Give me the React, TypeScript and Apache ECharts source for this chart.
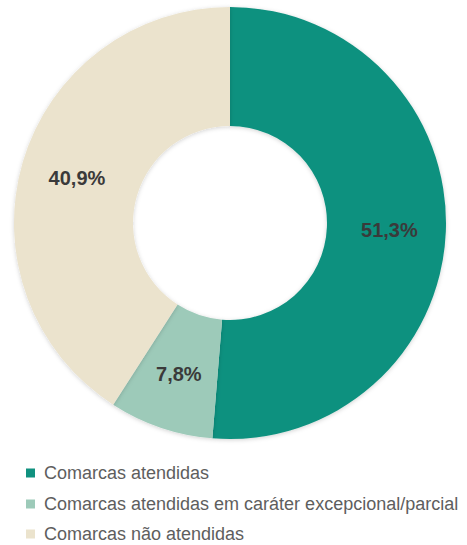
import React, { useEffect, useRef } from "react";
import * as echarts from "echarts";

const categories = [
  "Comarcas atendidas",
  "Comarcas atendidas em caráter excepcional/parcial",
  "Comarcas não atendidas",
];
const values = [51.3, 7.8, 40.9];
const colors = ["#10917f", "#9dcab9", "#ebe3cd"];
const legendTops = [459, 490, 520];

export default function App() {
  const ref = useRef<HTMLDivElement>(null);
  useEffect(() => {
    if (!ref.current) return;
    const chart = echarts.init(ref.current, null, { renderer: "svg" });
    chart.setOption({
      animation: false,
      backgroundColor: "#ffffff",
      legend: categories.map((name, i) => ({
        orient: "vertical",
        left: 21,
        top: legendTops[i],
        icon: "rect",
        itemWidth: 9,
        itemHeight: 9,
        data: [name],
        textStyle: {
          color: "#5e5e5e",
          fontSize: 18,
          fontFamily: "Liberation Sans, Arial, sans-serif",
          padding: [0, 0, 0, 4],
        },
      })),
      series: [
        {
          type: "pie",
          center: [230, 223],
          radius: [97, 216],
          startAngle: 90,
          clockwise: true,
          itemStyle: {
            shadowBlur: 4,
            shadowColor: "rgba(0,0,0,0.18)",
            shadowOffsetY: 1,
          },
          label: {
            show: true,
            position: "inside",
            color: "#3a3a3a",
            fontSize: 20,
            fontWeight: "bold",
            fontFamily: "Liberation Sans, Arial, sans-serif",
            formatter: (p: any) => p.value.toFixed(1).replace(".", ",") + "%",
          },
          labelLine: { show: false },
          emphasis: { disabled: true },
          data: categories.map((name, i) => ({
            name,
            value: values[i],
            itemStyle: { color: colors[i] },
          })),
        },
      ],
    });
    return () => chart.dispose();
  }, []);
  return (
    <div
      ref={ref}
      style={{ position: "absolute", left: 0, top: 0, width: 467, height: 545 }}
    />
  );
}
